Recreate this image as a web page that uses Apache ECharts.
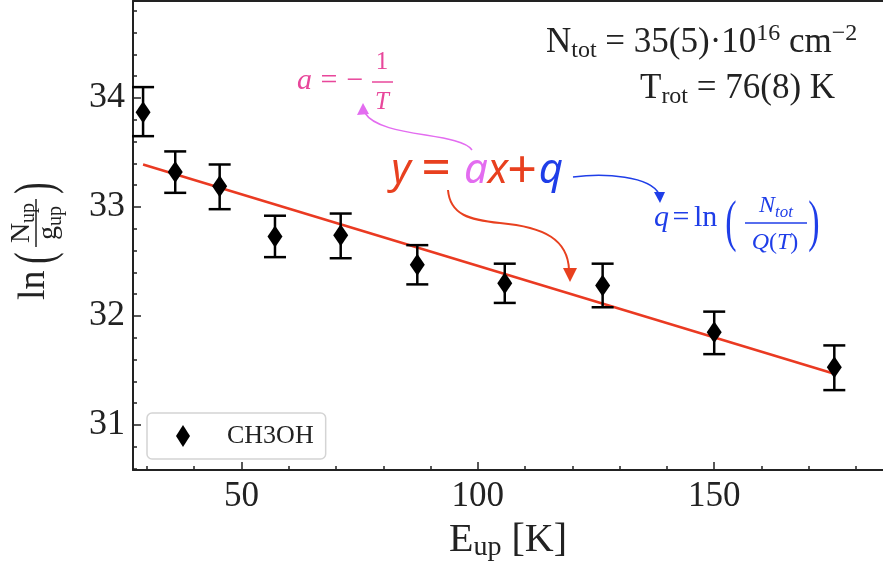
<!DOCTYPE html>
<html><head><meta charset="utf-8">
<script src="https://cdn.jsdelivr.net/npm/echarts@6/dist/echarts.min.js"></script>
<style>html,body{margin:0;padding:0;background:#fff}#c{width:883px;height:572px}</style>
</head><body><div id="c"></div>
<script>
// ---- data ----
const eUp   = [29.2, 36.0, 45.4, 57.1, 71.0, 87.2, 105.7, 126.4, 150.0, 175.4];
const lnN   = [33.87, 33.32, 33.19, 32.73, 32.74, 32.47, 32.30, 32.28, 31.85, 31.53];
const errLo = [33.65, 33.13, 32.98, 32.54, 32.53, 32.29, 32.12, 32.08, 31.65, 31.32];
const errHi = [34.10, 33.51, 33.39, 32.92, 32.94, 32.65, 32.48, 32.48, 32.04, 31.73];
const fitX  = [29.2, 175.4];
const fitY  = [33.39, 31.47];
const xMajor = [50, 100, 150];
const xMinor = [30, 40, 60, 70, 80, 90, 110, 120, 130, 140, 160, 170, 180];
const yMajor = [31, 32, 33, 34];
const yMinor = [30.6, 30.8, 31.2, 31.4, 31.6, 31.8, 32.2, 32.4, 32.6, 32.8, 33.2, 33.4, 33.6, 33.8, 34.2, 34.4, 34.6, 34.8];
const seriesName = 'CH3OH';

const SERIF = "'Liberation Serif','DejaVu Serif',serif";
const SANS = "'Noto Sans','Open Sans',sans-serif";
const AX = '#222';
const PINK = '#e8479b', VIOLET = '#e36cf0', BLUE = '#1f3ee8', RED = '#e8401f';

const chart = echarts.init(document.getElementById('c'), null, {renderer: 'canvas'});

function T(text, x, yBase, fs, color, opts) {
  opts = opts || {};
  return {type: 'text', z: 100,
    style: Object.assign({text: text, x: x, y: yBase - 0.3 * fs, fontSize: fs,
      fontFamily: opts.family || SERIF, fill: color, align: opts.align || 'left',
      verticalAlign: 'middle', fontStyle: opts.italic ? 'italic' : 'normal',
      fontWeight: opts.weight || 'normal'}, opts.style || {})};
}
// tall thin parenthesis: small font stretched vertically
function Paren(ch, x, yc, fs, sy, color) {
  return {type: 'text', z: 100, x: x, y: yc, scaleY: sy,
    style: {text: ch, x: 0, y: 0, fontSize: fs, fontFamily: SERIF, fill: color, align: 'center', verticalAlign: 'middle'}};
}
function L(x1, y1, x2, y2, color, w) {
  return {type: 'line', z: 100, shape: {x1, y1, x2, y2}, style: {stroke: color, lineWidth: w || 1.5}};
}
function B(p, color, w) {
  return {type: 'bezierCurve', z: 100, shape: {x1: p[0], y1: p[1], cpx1: p[2], cpy1: p[3], cpx2: p[4], cpy2: p[5], x2: p[6], y2: p[7]},
    style: {stroke: color, lineWidth: w || 1.5, fill: null}};
}
function P(pts, color) {
  return {type: 'polygon', z: 100, shape: {points: pts}, style: {fill: color}};
}

const richSub = (fs, sfs, italicSub) => ({
  m: {fontSize: fs, fontFamily: SERIF, lineHeight: fs + 6},
  mi: {fontSize: fs, fontFamily: SERIF, fontStyle: 'italic', lineHeight: fs + 6},
  s: {fontSize: sfs, fontFamily: SERIF, lineHeight: sfs, verticalAlign: 'bottom', fontStyle: italicSub ? 'italic' : 'normal'},
  p: {fontSize: sfs, fontFamily: SERIF, lineHeight: sfs, verticalAlign: 'top'}
});

const graphics = [
  // top-right results
  {type: 'text', z: 100, style: {text: '{m|N}{s|tot}{m| = 35(5)·10}{p|16}{m| cm}{p|−2}', x: 546, y: 53 - 10.5, verticalAlign: 'middle', fill: '#222', fontFamily: SERIF, rich: richSub(35, 24)}},
  {type: 'text', z: 100, style: {text: '{m|T}{s|rot}{m| = 76(8) K}', x: 640, y: 99 - 10.5, verticalAlign: 'middle', fill: '#222', fontFamily: SERIF, rich: richSub(35, 24)}},

  // pink: a = -1/T
  T('a', 297, 90, 30, PINK, {italic: true}),
  T('=', 329, 90, 30, PINK, {align: 'center'}),
  T('−', 355, 90, 30, PINK, {align: 'center'}),
  T('1', 382, 70, 25, PINK, {align: 'center'}),
  L(372, 82, 393, 82, PINK, 1.5),
  T('T', 382, 110, 25, PINK, {align: 'center', italic: true}),

  // blue: q = ln(N_tot / Q(T))
  T('q', 654, 227, 30, BLUE, {italic: true}),
  T('=', 681, 227, 30, BLUE, {align: 'center'}),
  T('ln', 694, 227, 30, BLUE),
  Paren('(', 731, 225, 34, 1.65, BLUE),
  {type: 'text', z: 100, style: {text: '{mi|N}{s|tot}', x: 776, y: 213 - 7.2, align: 'center', verticalAlign: 'middle', fill: BLUE, fontFamily: SERIF, rich: richSub(24, 17, true)}},
  L(745, 223, 807, 223, BLUE, 1.5),
  {type: 'text', z: 100, style: {text: '{mi|Q}{m|(}{mi|T}{m|)}', x: 775, y: 250 - 7.2, align: 'center', verticalAlign: 'middle', fill: BLUE, fontFamily: SERIF, rich: richSub(24, 17)}},
  Paren(')', 814, 225, 34, 1.65, BLUE),

  // y = ax + q
  T('y', 401, 184, 42, RED, {align: 'center', italic: true, family: SANS}),
  T('=', 436, 187, 52, RED, {align: 'center', family: SANS}),
  T('a', 476, 184, 42, VIOLET, {align: 'center', italic: true, family: SANS}),
  T('x', 498, 184, 42, RED, {align: 'center', italic: true, family: SANS}),
  T('+', 522, 189, 52, RED, {align: 'center', family: SANS}),
  T('q', 551, 184, 42, BLUE, {align: 'center', italic: true, family: SANS}),

  // arrows
  B([472, 150, 460, 132, 380, 138, 365, 113], VIOLET, 1.5),
  P([[363, 103], [357, 115], [369, 114]], VIOLET),
  B([573, 177, 605, 173, 650, 176, 659, 194], BLUE, 1.5),
  P([[660, 203], [654, 192], [665, 192]], BLUE),
  B([448, 190, 450, 215, 470, 220, 500, 223], RED, 2),
  B([500, 223, 545, 227, 568, 240, 569, 270], RED, 2),
  P([[570, 282], [563, 268], [577, 268]], RED),

  // y-axis label ln(N_up / g_up), rotated
  {type: 'group', x: 36, y: 238, rotation: Math.PI / 2, z: 100, children: [
    {type: 'text', style: {text: 'ln', x: -62, y: 9.5 - 11.4, fontSize: 38, fontFamily: SERIF, fill: '#222', verticalAlign: 'middle'}},
    {type: 'text', x: -20, y: 2, scaleY: 1.6, style: {text: '(', x: 0, y: 0, fontSize: 34, fontFamily: SERIF, fill: '#222', align: 'center', verticalAlign: 'middle'}},
    {type: 'text', style: {text: '{m|N}{s|up}', x: 15, y: -6 - 8.4, align: 'center', verticalAlign: 'middle', fill: '#222', fontFamily: SERIF, rich: richSub(28, 20)}},
    {type: 'line', shape: {x1: -9, y1: 0, x2: 39, y2: 0}, style: {stroke: '#222', lineWidth: 1.5}},
    {type: 'text', style: {text: '{m|g}{s|up}', x: 15, y: 21 - 8.4, align: 'center', verticalAlign: 'middle', fill: '#222', fontFamily: SERIF, rich: richSub(28, 20)}},
    {type: 'text', x: 50, y: 2, scaleY: 1.6, style: {text: ')', x: 0, y: 0, fontSize: 34, fontFamily: SERIF, fill: '#222', align: 'center', verticalAlign: 'middle'}}
  ]}
];

const xMin = 27.07, xMax = 185.7, yMin = 30.587, yMax = 34.89;

const option = {
  animation: false,
  backgroundColor: '#fff',
  grid: {left: 133, top: 1, width: 750, height: 469, containLabel: false},
  legend: {
    data: [seriesName], left: 147, top: 413, icon: 'diamond', itemWidth: 14, itemHeight: 22,
    padding: [10, 12, 10, 29], backgroundColor: '#fff', borderColor: '#d4d4d4', borderWidth: 1.5, borderRadius: 5,
    itemStyle: {opacity: 1},
    textStyle: {fontFamily: SERIF, fontSize: 26, color: '#222', padding: [0, 0, 0, 32]}
  },
  xAxis: [
    {type: 'value', min: xMin, max: xMax, position: 'bottom',
      axisLine: {show: true, lineStyle: {color: AX, width: 2}},
      axisTick: {show: true, inside: true, length: 8, customValues: xMajor, lineStyle: {color: AX, width: 1.5}},
      axisLabel: {show: true, customValues: xMajor, fontFamily: SERIF, fontSize: 35, color: '#222', margin: 9},
      splitLine: {show: false},
      name: '{a|E}{s|up}{a| [K]}', nameLocation: 'middle', nameGap: 48,
      nameTextStyle: {color: '#222', fontFamily: SERIF, rich: {
        a: {fontSize: 40, fontFamily: SERIF, lineHeight: 44, color: '#222'},
        s: {fontSize: 28, fontFamily: SERIF, lineHeight: 28, verticalAlign: 'bottom', color: '#222'}}}},
    {type: 'value', min: xMin, max: xMax, position: 'bottom',
      axisLine: {show: false},
      axisTick: {show: true, inside: true, length: 4, customValues: xMinor, lineStyle: {color: AX, width: 1.5}},
      axisLabel: {show: false}, splitLine: {show: false}},
    {type: 'value', min: xMin, max: xMax, position: 'top',
      axisLine: {show: true, lineStyle: {color: AX, width: 2}},
      axisTick: {show: false}, axisLabel: {show: false}, splitLine: {show: false}}
  ],
  yAxis: [
    {type: 'value', min: yMin, max: yMax, position: 'left',
      axisLine: {show: true, lineStyle: {color: AX, width: 2}},
      axisTick: {show: true, inside: true, length: 8, customValues: yMajor, lineStyle: {color: AX, width: 1.5}},
      axisLabel: {show: true, customValues: yMajor, fontFamily: SERIF, fontSize: 36, color: '#222', margin: 8},
      splitLine: {show: false}},
    {type: 'value', min: yMin, max: yMax, position: 'left',
      axisLine: {show: false},
      axisTick: {show: true, inside: true, length: 4, customValues: yMinor, lineStyle: {color: AX, width: 1.5}},
      axisLabel: {show: false}, splitLine: {show: false}}
  ],
  series: [
    {type: 'line', xAxisIndex: 0, yAxisIndex: 0, data: fitX.map((x, i) => [x, fitY[i]]),
      showSymbol: false, symbol: 'none', lineStyle: {color: '#ea3a22', width: 2.5}, z: 2, silent: true},
    {type: 'custom', xAxisIndex: 0, yAxisIndex: 0, z: 3,
      data: eUp.map((x, i) => [x, errLo[i], errHi[i]]),
      renderItem: function (params, api) {
        const x = api.value(0);
        const pLo = api.coord([x, api.value(1)]);
        const pHi = api.coord([x, api.value(2)]);
        const hw = 11, st = {stroke: '#000', lineWidth: 2.5};
        return {type: 'group', children: [
          {type: 'line', shape: {x1: pLo[0], y1: pLo[1], x2: pHi[0], y2: pHi[1]}, style: st},
          {type: 'line', shape: {x1: pLo[0] - hw, y1: pLo[1], x2: pLo[0] + hw, y2: pLo[1]}, style: st},
          {type: 'line', shape: {x1: pHi[0] - hw, y1: pHi[1], x2: pHi[0] + hw, y2: pHi[1]}, style: st}
        ]};
      }},
    {type: 'scatter', name: seriesName, xAxisIndex: 0, yAxisIndex: 0, z: 4,
      symbol: 'diamond', symbolSize: [15, 22], itemStyle: {color: '#000', opacity: 1},
      data: eUp.map((x, i) => [x, lnN[i]])}
  ],
  graphic: graphics
};
chart.setOption(option);
</script>
</body></html>
